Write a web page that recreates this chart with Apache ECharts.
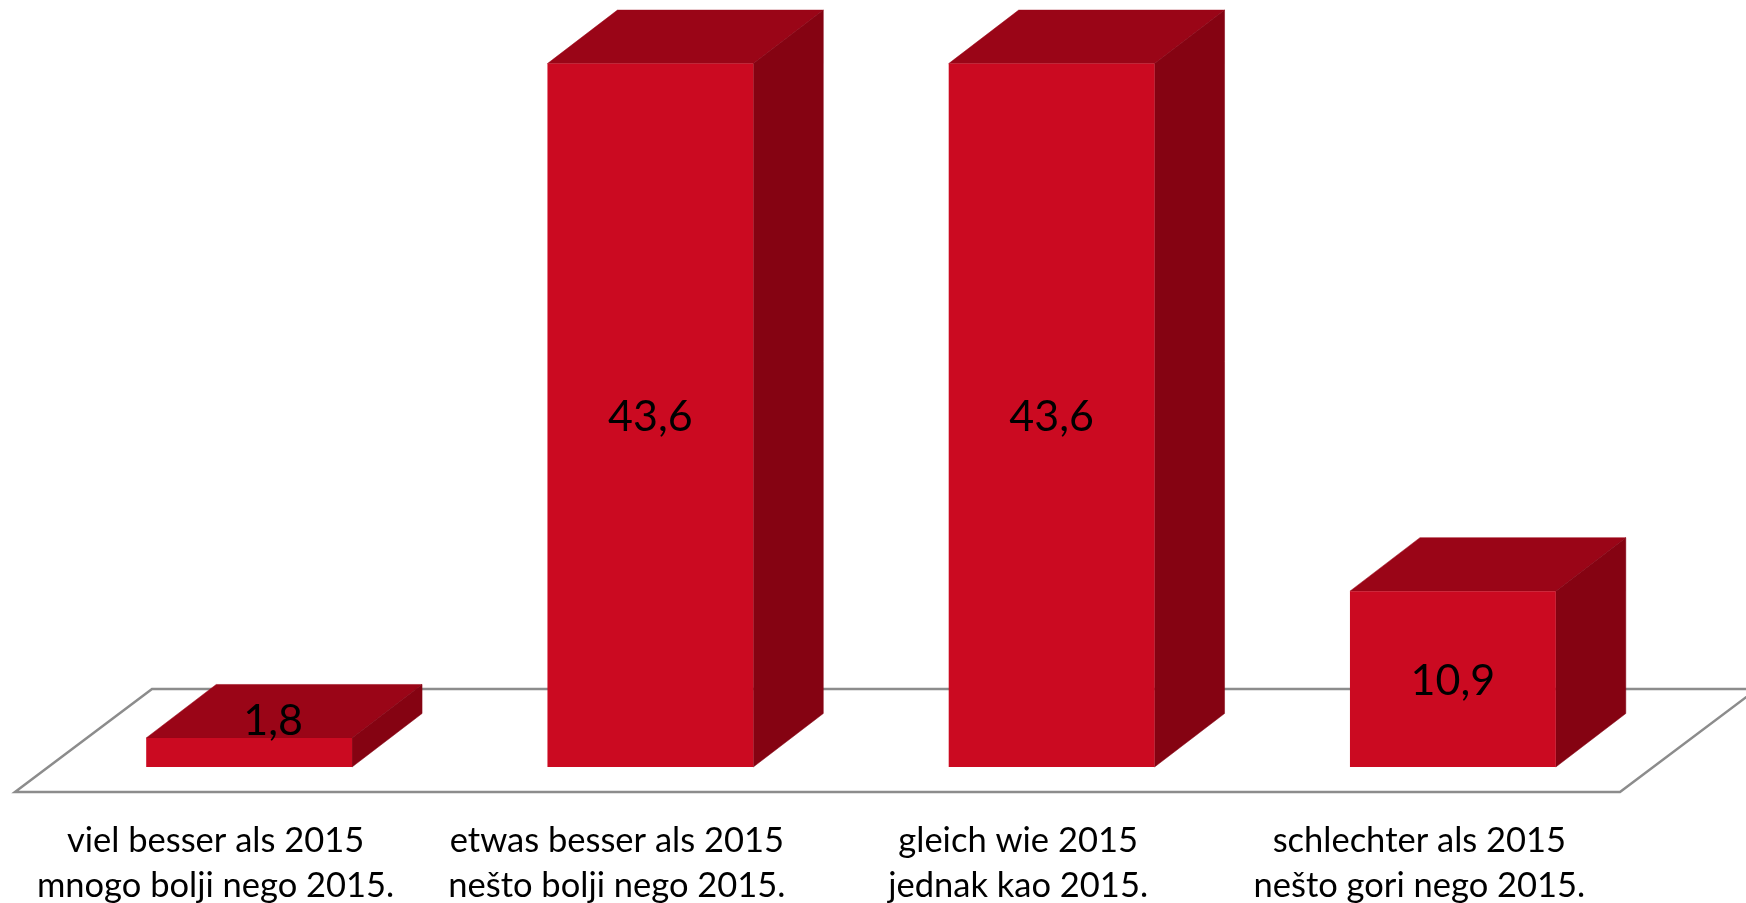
<!DOCTYPE html>
<html>
<head>
<meta charset="utf-8">
<title>Chart</title>
<style>
  html, body { margin: 0; padding: 0; background: #fff; }
  #main { width: 1746px; height: 903px; }
</style>
</head>
<body>
<div id="main"></div>
<script src="https://cdn.jsdelivr.net/npm/echarts@6/dist/echarts.min.js"></script>
<script>
const categories = [
  "viel besser als 2015\nmnogo bolji nego 2015.",
  "etwas besser als 2015\nnešto bolji nego 2015.",
  "gleich wie 2015\njednak kao 2015.",
  "schlechter als 2015\nnešto gori nego 2015."
];
const values = [1.8, 43.6, 43.6, 10.9];

// depth of the fake 3d box, in px
const depthX = 70;
const depthY = 53.5;
const fontName = "Lato";

const chart = echarts.init(document.getElementById("main"));

// floor under the bars
function renderFloor(params, api) {
  const sys = params.coordSys;
  const bottom = sys.y + sys.height;
  const x0 = sys.x - 33.5;
  const x1 = x0 + sys.width;
  const front = bottom + 25;
  const back = bottom - 78;
  return {
    type: "polygon",
    shape: {
      points: [[x0, front], [x1, front], [x1 + 137, back], [x0 + 137, back]]
    },
    style: { fill: "#fff", stroke: "#8c8c8c", lineWidth: 2.5 },
    silent: true
  };
}

function renderBox(params, api) {
  const top = api.coord([api.value(0), api.value(1)]);
  const base = api.coord([api.value(0), 0]);
  const w = api.size([1, 0])[0] * 0.513;
  const l = top[0] - w / 2;
  const r = top[0] + w / 2;
  // small bar has its label pushed up and to the right
  const small = api.value(1) < 5;
  return {
    type: "group",
    children: [
      {
        type: "polygon",
        shape: { points: [[l, top[1]], [r, top[1]], [r + depthX, top[1] - depthY], [l + depthX, top[1] - depthY]] },
        style: { fill: "#9a0517", stroke: "#9a0517", lineWidth: 0.5 }
      },
      {
        type: "polygon",
        shape: { points: [[r, top[1]], [r + depthX, top[1] - depthY], [r + depthX, base[1] - depthY], [r, base[1]]] },
        style: { fill: "#850312", stroke: "#850312", lineWidth: 0.5 }
      },
      {
        type: "rect",
        shape: { x: l, y: top[1], width: w, height: base[1] - top[1] },
        style: { fill: "#cb0a21" }
      },
      {
        type: "text",
        z2: 10,
        x: top[0] + (small ? 24 : 0),
        y: (top[1] + base[1]) / 2 + (small ? -31 : 2),
        style: {
          text: api.value(1).toFixed(1).replace(".", ","),
          fill: "#000",
          font: "43px " + fontName,
          align: "center",
          verticalAlign: "middle"
        }
      }
    ]
  };
}

const option = {
  animation: false,
  grid: { left: 48.5, right: 92.5, top: 41, bottom: 136, outerBoundsMode: "none" },
  xAxis: {
    type: "category",
    data: categories,
    axisLine: { show: false },
    axisTick: { show: false },
    axisLabel: {
      color: "#000",
      fontFamily: fontName,
      fontSize: 34.5,
      lineHeight: 45,
      margin: 51,
      padding: [0, 67, 0, 0],
      interval: 0
    }
  },
  yAxis: { type: "value", min: 0, max: 45, show: false },
  series: [
    {
      type: "custom",
      z: 1,
      renderItem: renderFloor,
      data: [[0, 0]],
      encode: { x: 0, y: 1 },
      silent: true
    },
    {
      type: "custom",
      z: 2,
      renderItem: renderBox,
      data: values.map((v, i) => [i, v]),
      encode: { x: 0, y: 1 }
    }
  ]
};
chart.setOption(option);
</script>
</body>
</html>
